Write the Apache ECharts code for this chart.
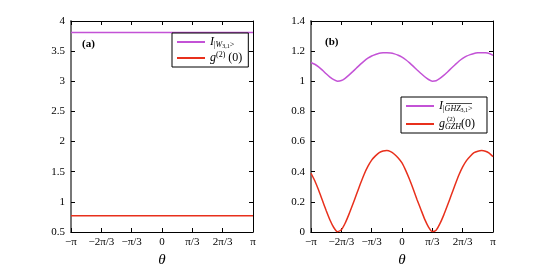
<!DOCTYPE html>
<html><head><meta charset="utf-8">
<script src="https://cdn.jsdelivr.net/npm/echarts@6/dist/echarts.min.js"></script>
<style>html,body{margin:0;padding:0;background:#fff}#c{width:545px;height:273px}</style>
</head><body><div id="c"></div>
<script>
// theta in degrees (-180 = -pi ... 180 = pi)
const thetaA = [-180, 180];
const intensityA = [3.81, 3.81];
const g2A = [0.77, 0.77];

const thetaB = [-180,-172.5,-165,-157.5,-150,-142.5,-135,-127.5,-120,-112.5,-105,-97.5,-90,-82.5,-75,-67.5,-60,-52.5,-45,-37.5,-30,-22.5,-15,-7.5,0,7.5,15,22.5,30,37.5,45,52.5,60,67.5,75,82.5,90,97.5,105,112.5,120,127.5,135,142.5,150,157.5,165,172.5,180];
const intensityB = [1.125,1.113,1.096,1.074,1.050,1.028,1.011,1.001,1.005,1.020,1.041,1.064,1.088,1.112,1.134,1.153,1.168,1.178,1.186,1.189,1.190,1.188,1.182,1.173,1.161,1.143,1.122,1.099,1.075,1.052,1.030,1.012,1.001,1.004,1.019,1.039,1.062,1.086,1.110,1.133,1.152,1.167,1.177,1.185,1.189,1.190,1.189,1.184,1.172];
const g2B = [0.39,0.34,0.278,0.21,0.143,0.08,0.03,0.002,0.015,0.058,0.117,0.182,0.25,0.318,0.382,0.435,0.477,0.505,0.527,0.537,0.54,0.533,0.516,0.491,0.458,0.407,0.348,0.282,0.213,0.148,0.084,0.033,0.003,0.012,0.055,0.112,0.177,0.245,0.313,0.378,0.432,0.474,0.503,0.526,0.536,0.54,0.536,0.523,0.50];

const xTickLabels = {'-180':'\u2212\u03c0','-120':'\u22122\u03c0/3','-60':'\u2212\u03c0/3','0':'0','60':'\u03c0/3','120':'2\u03c0/3','180':'\u03c0'};

const PURPLE = '#c352d6';
const RED = '#e8301c';
const FONT = 'Liberation Serif';

function pairs(xs, ys){ return xs.map((x,i)=>[x, ys[i]]); }

const chart = echarts.init(document.getElementById('c'), null, {renderer:'canvas'});

function xAxes(gi){
  return [{
    gridIndex: gi, type:'value', min:-180, max:180, interval:60,
    axisLine:{show:true, onZero:false, lineStyle:{color:'#000', width:1}},
    axisTick:{show:true, inside:true, length:4, lineStyle:{color:'#000'}},
    axisLabel:{fontFamily:FONT, fontSize:11, color:'#000', margin:5, formatter:v=>xTickLabels[String(Math.round(v))]||''},
    splitLine:{show:false},
    name:'\u03b8', nameLocation:'middle', nameGap:21,
    nameTextStyle:{fontFamily:FONT, fontStyle:'italic', fontSize:15, color:'#000'}
  },{
    gridIndex: gi, type:'value', position:'top', min:-180, max:180, interval:60,
    axisLine:{show:true, onZero:false, lineStyle:{color:'#000', width:1}},
    axisTick:{show:true, inside:true, length:4, lineStyle:{color:'#000'}},
    axisLabel:{show:false}, splitLine:{show:false}
  }];
}
function yAxes(gi, min, max, interval, fmt){
  return [{
    gridIndex: gi, type:'value', min:min, max:max, interval:interval,
    axisLine:{show:true, onZero:false, lineStyle:{color:'#777', width:2}},
    axisTick:{show:true, inside:true, length:4, lineStyle:{color:'#000'}},
    axisLabel:{fontFamily:FONT, fontSize:11, color:'#000', margin:6, formatter:fmt},
    splitLine:{show:false}
  },{
    gridIndex: gi, type:'value', position:'right', min:min, max:max, interval:interval,
    axisLine:{show:true, onZero:false, lineStyle:{color:'#000', width:1}},
    axisTick:{show:true, inside:true, length:4, lineStyle:{color:'#000'}},
    axisLabel:{show:false}, splitLine:{show:false}
  }];
}

const rich = {
  i:{fontFamily:FONT, fontStyle:'italic', fontSize:12, lineHeight:14, color:'#000'},
  n:{fontFamily:FONT, fontSize:12, lineHeight:14, color:'#000'},
  sub:{fontFamily:FONT, fontStyle:'italic', fontSize:8, lineHeight:8, padding:[6,0,0,0], color:'#000'},
  subn:{fontFamily:FONT, fontSize:8, lineHeight:8, padding:[6,0,0,0], color:'#000'},
  ss:{fontFamily:FONT, fontSize:6, lineHeight:6, padding:[8,0,0,0], color:'#000'},
  sup:{fontFamily:FONT, fontSize:8, lineHeight:8, padding:[0,0,6,0], color:'#000'}
};
const legendNames = {
  'IA':'{i|I}{subn||}{sub|W}{ss|3,1}{subn|>}',
  'gA':'{i|g}{sup|(2)}{n| (0)}',
  'IB':'{i|I}{subn||}{sub|GHZ}{ss|3,1}{subn|>}',
  'gB':'{i|g}{sub|GZH}{n|(0)}'
};

const option = {
  animation:false,
  backgroundColor:'#fff',
  grid:[
    {left:71, top:21, width:182, height:221},
    {left:311, top:21, width:182, height:221}
  ],
  xAxis:[...xAxes(0), ...xAxes(1)],
  yAxis:[
    ...yAxes(0, 0.5, 4, 0.5, v=>String(Math.round(v*10)/10)),
    ...yAxes(1, 0, 1.4, 0.2, v=>String(Math.round(v*10)/10))
  ],
  legend:[
    {data:['IA','gA'], orient:'vertical', left:172, top:33, itemWidth:28, itemHeight:2, itemGap:2,
     icon:'rect', padding:[2,6,2,5], borderColor:'#000', borderWidth:1, backgroundColor:'#fff',
     formatter:n=>legendNames[n], textStyle:{rich:rich}},
    {data:['IB','gB'], orient:'vertical', left:401, top:97, itemWidth:28, itemHeight:2, itemGap:4,
     icon:'rect', padding:[2,12,2,5], borderColor:'#000', borderWidth:1, backgroundColor:'#fff',
     formatter:n=>legendNames[n], textStyle:{rich:rich}}
  ],
  graphic:[
    {type:'text', left:82, top:39, style:{text:'(a)', font:'bold 11px "Liberation Serif"', fill:'#000'}},
    {type:'text', left:325, top:37, style:{text:'(b)', font:'bold 11px "Liberation Serif"', fill:'#000'}},
    {type:'line', z:100, shape:{x1:446, y1:103.5, x2:472, y2:103.5}, style:{stroke:'#000', lineWidth:0.7}},
    {type:'text', z:100, left:447, top:116, style:{text:'(2)', font:'7px "Liberation Serif"', fill:'#000'}}
  ],
  series:[
    {name:'IA', type:'line', xAxisIndex:0, yAxisIndex:0, data:pairs(thetaA,intensityA), showSymbol:false, lineStyle:{color:PURPLE,width:1.5}, itemStyle:{color:PURPLE}},
    {name:'gA', type:'line', xAxisIndex:0, yAxisIndex:0, data:pairs(thetaA,g2A), showSymbol:false, lineStyle:{color:RED,width:1.5}, itemStyle:{color:RED}},
    {name:'IB', type:'line', xAxisIndex:2, yAxisIndex:2, data:pairs(thetaB,intensityB), smooth:0.2, showSymbol:false, lineStyle:{color:PURPLE,width:1.5}, itemStyle:{color:PURPLE}},
    {name:'gB', type:'line', xAxisIndex:2, yAxisIndex:2, data:pairs(thetaB,g2B), smooth:0.2, showSymbol:false, lineStyle:{color:RED,width:1.5}, itemStyle:{color:RED}}
  ]
};
chart.setOption(option);
</script>
</body></html>
